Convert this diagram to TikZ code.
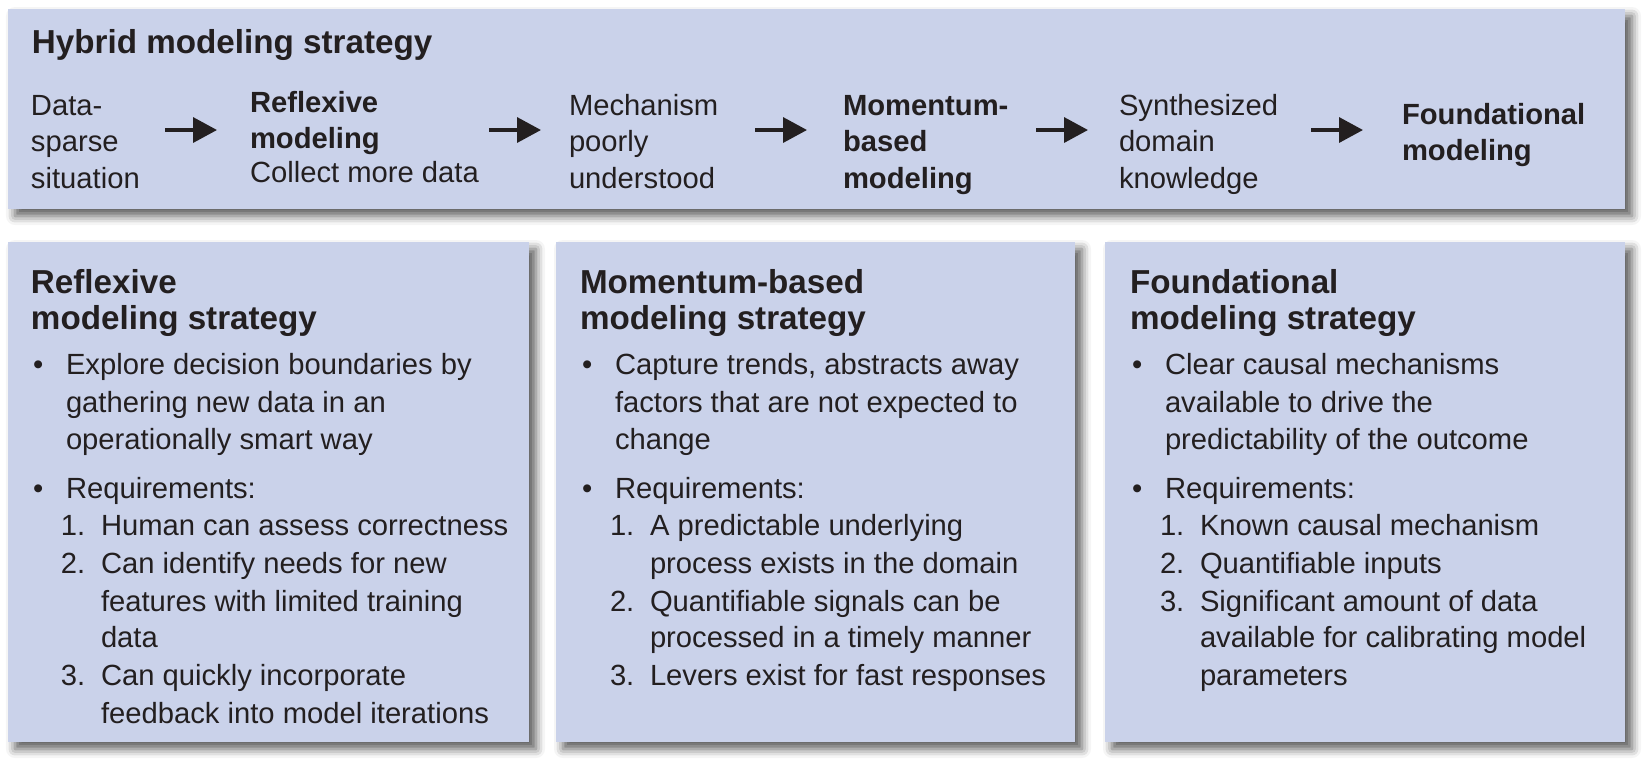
\documentclass[tikz,border=0pt]{standalone}
\usepackage{fontspec}
\setmainfont{Liberation Sans}
\usetikzlibrary{arrows.meta,shadows.blur}
\definecolor{panel}{RGB}{202,210,234}
\definecolor{ink}{RGB}{35,31,32}
\newcommand\bodyfont{\fontsize{14.6}{17.5}\selectfont}
\newcommand\headfont{\fontsize{16.6}{19}\selectfont\bfseries}
\begin{document}
\begin{tikzpicture}[x=0.5pt,y=-0.5pt,
  panelbox/.style={fill=panel, draw=none, inner sep=0pt, outer sep=0pt, anchor=north west,
    blur shadow={shadow xshift=3.5pt, shadow yshift=-3.5pt, shadow blur radius=4.5pt, shadow opacity=65}},
  txt/.style={anchor=base west, inner sep=0pt, outer sep=0pt, text=ink, font=\bodyfont},
  bld/.style={txt, font=\bodyfont\bfseries},
  hd/.style={txt, font=\headfont},
  flowarrow/.style={draw=ink, line width=1.75pt, -{Triangle[length=12pt,width=12.5pt]}}]
\useasboundingbox (0,0) rectangle (1644,768);

% panels
\node[panelbox, minimum width=808.5pt, minimum height=100pt] (top) at (8,9) {};
\node[panelbox, minimum width=260.5pt, minimum height=250pt] (boxA) at (8,242) {};
\node[panelbox, minimum width=259.5pt, minimum height=250pt] (boxB) at (556,242) {};
\node[panelbox, minimum width=260pt, minimum height=250pt] (boxC) at (1105,242) {};

% top panel: title and flow
\node[hd] (hyb) at (32,53) {Hybrid modeling strategy};

\node[txt] (s1a) at (31,115) {Data-};
\node[txt] (s1b) at (31,151.5) {sparse};
\node[txt] (s1c) at (31,188) {situation};

\node[bld] (s2a) at (250,112) {Reflexive};
\node[bld] (s2b) at (250,148.5) {modeling};
\node[txt] (s2c) at (250,182) {Collect more data};

\node[txt] (s3a) at (569,115) {Mechanism};
\node[txt] (s3b) at (569,151.5) {poorly};
\node[txt] (s3c) at (569,188) {understood};

\node[bld] (s4a) at (843,115) {Momentum-};
\node[bld] (s4b) at (843,151.5) {based};
\node[bld] (s4c) at (843,188) {modeling};

\node[txt] (s5a) at (1119,115) {Synthesized};
\node[txt] (s5b) at (1119,151.5) {domain};
\node[txt] (s5c) at (1119,188) {knowledge};

\node[bld] (s6a) at (1402,124) {Foundational};
\node[bld] (s6b) at (1402,160) {modeling};

\coordinate (a1s) at (165,130); \coordinate (a1e) at (217,130);
\coordinate (a2s) at (489,130); \coordinate (a2e) at (541,130);
\coordinate (a3s) at (755,130); \coordinate (a3e) at (807,130);
\coordinate (a4s) at (1036,130); \coordinate (a4e) at (1088,130);
\coordinate (a5s) at (1311,130); \coordinate (a5e) at (1363,130);
\draw[flowarrow] (a1s) -- (a1e);
\draw[flowarrow] (a2s) -- (a2e);
\draw[flowarrow] (a3s) -- (a3e);
\draw[flowarrow] (a4s) -- (a4e);
\draw[flowarrow] (a5s) -- (a5e);

% reflexive panel
\node[hd] (ta1) at (31,293) {Reflexive};
\node[hd] (ta2) at (31,329) {modeling strategy};
\node[txt] (ba1) at (33,374.5) {•};
\node[txt] (la1) at (66,374.5) {Explore decision boundaries by};
\node[txt] (la2) at (66,412) {gathering new data in an};
\node[txt] (la3) at (66,449) {operationally smart way};
\node[txt] (ba2) at (33,498.5) {•};
\node[txt] (la4) at (66,498.5) {Requirements:};
\node[txt] (na1) at (61,535) {1.};
\node[txt] (la5) at (101,535) {Human can assess correctness};
\node[txt] (na2) at (61,573.5) {2.};
\node[txt] (la6) at (101,573.5) {Can identify needs for new};
\node[txt] (la7) at (101,611) {features with limited training};
\node[txt] (la8) at (101,647.5) {data};
\node[txt] (na3) at (61,685) {3.};
\node[txt] (la9) at (101,685) {Can quickly incorporate};
\node[txt] (la10) at (101,723) {feedback into model iterations};

% momentum-based panel
\node[hd] (tb1) at (580,293) {Momentum-based};
\node[hd] (tb2) at (580,329) {modeling strategy};
\node[txt] (bb1) at (582,374.5) {•};
\node[txt] (lb1) at (615,374.5) {Capture trends, abstracts away};
\node[txt] (lb2) at (615,412) {factors that are not expected to};
\node[txt] (lb3) at (615,449) {change};
\node[txt] (bb2) at (582,498.5) {•};
\node[txt] (lb4) at (615,498.5) {Requirements:};
\node[txt] (nb1) at (610,535) {1.};
\node[txt] (lb5) at (650,535) {A predictable underlying};
\node[txt] (lb6) at (650,573.5) {process exists in the domain};
\node[txt] (nb2) at (610,611) {2.};
\node[txt] (lb7) at (650,611) {Quantifiable signals can be};
\node[txt] (lb8) at (650,647.5) {processed in a timely manner};
\node[txt] (nb3) at (610,685) {3.};
\node[txt] (lb9) at (650,685) {Levers exist for fast responses};

% foundational panel
\node[hd] (tc1) at (1130,293) {Foundational};
\node[hd] (tc2) at (1130,329) {modeling strategy};
\node[txt] (bc1) at (1132,374.5) {•};
\node[txt] (lc1) at (1165,374.5) {Clear causal mechanisms};
\node[txt] (lc2) at (1165,412) {available to drive the};
\node[txt] (lc3) at (1165,449) {predictability of the outcome};
\node[txt] (bc2) at (1132,498.5) {•};
\node[txt] (lc4) at (1165,498.5) {Requirements:};
\node[txt] (nc1) at (1160,535) {1.};
\node[txt] (lc5) at (1200,535) {Known causal mechanism};
\node[txt] (nc2) at (1160,573.5) {2.};
\node[txt] (lc6) at (1200,573.5) {Quantifiable inputs};
\node[txt] (nc3) at (1160,611) {3.};
\node[txt] (lc7) at (1200,611) {Significant amount of data};
\node[txt] (lc8) at (1200,647.5) {available for calibrating model};
\node[txt] (lc9) at (1200,685) {parameters};
\end{tikzpicture}
\end{document}
